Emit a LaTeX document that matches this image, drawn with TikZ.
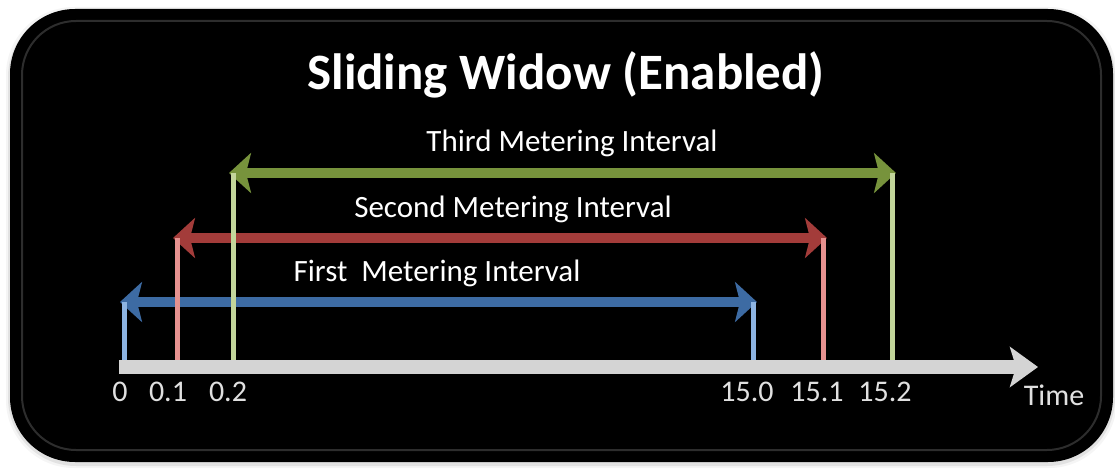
\documentclass[tikz,border=0pt]{standalone}
\usepackage{fontspec}
\setmainfont{Carlito}
\usetikzlibrary{arrows.meta}
\definecolor{grnA}{HTML}{77933C}
\definecolor{grnV}{HTML}{C3D69B}
\definecolor{redA}{HTML}{A33C3A}
\definecolor{redV}{HTML}{E6918F}
\definecolor{bluA}{HTML}{3D6BA3}
\definecolor{bluV}{HTML}{8DB4E2}
\definecolor{axisC}{HTML}{D4D4D4}
\begin{document}
\begin{tikzpicture}[x=1pt,y=-1pt,
  interval/.style={line width=10pt, {Stealth[length=22pt,width=40pt,inset=5pt]}-{Stealth[length=22pt,width=40pt,inset=5pt]}},
  tick/.style={line width=5pt},
  lbl/.style={text=white, font=\fontsize{31}{31}\selectfont, inner sep=0pt, anchor=base},
  num/.style={text=white!88!black, font=\fontsize{30}{30}\selectfont, inner sep=0pt, anchor=base},
  ttl/.style={text=white, font=\bfseries\fontsize{51}{51}\selectfont, inner sep=0pt, anchor=base}
]
\useasboundingbox (0,0) rectangle (1115,470);
% shadow and panel
\foreach \o/\a in {4/0.04,2/0.08}{
  \fill[black, opacity=\a, rounded corners=68pt] (10-\o,9-\o+2) rectangle (1113+\o,462+\o+2);
}
\fill[black, rounded corners=65pt] (10,9) rectangle (1113,462);
\draw[gray!35!black, line width=2pt, rounded corners=54pt] (22,21) rectangle (1101,450);

% title
\node[ttl] (title) at (566,90) {Sliding Widow (Enabled)};

% coordinates
\coordinate (b0) at (124,360); \coordinate (b0t) at (124,302);
\coordinate (b1) at (753,360); \coordinate (b1t) at (753,302);
\coordinate (r0) at (177,360); \coordinate (r0t) at (177,238);
\coordinate (r1) at (823,360); \coordinate (r1t) at (823,238);
\coordinate (g0) at (233,360); \coordinate (g0t) at (233,173);
\coordinate (g1) at (892,360); \coordinate (g1t) at (892,173);
\coordinate (bL) at (120,302); \coordinate (bR) at (757,302);
\coordinate (rL) at (173,238); \coordinate (rR) at (827,238);
\coordinate (gL) at (229,173); \coordinate (gR) at (896,173);
\coordinate (axL) at (119,367); \coordinate (axR) at (1038,367);

% interval arrows
\draw[interval, grnA] (gL) -- (gR);
\draw[interval, redA] (rL) -- (rR);
\draw[interval, bluA] (bL) -- (bR);

% verticals
\draw[tick, grnV] (g0t) -- (g0);
\draw[tick, grnV] (g1t) -- (g1);
\draw[tick, redV] (r0t) -- (r0);
\draw[tick, redV] (r1t) -- (r1);
\draw[tick, bluV] (b0t) -- (b0);
\draw[tick, bluV] (b1t) -- (b1);

% axis
\draw[axisC, line width=14pt, -{Stealth[length=28pt,width=40pt,inset=6pt]}] (axL) -- (axR);

% interval labels
\node[lbl] (lg) at (572,152) {Third Metering Interval};
\node[lbl] (lr) at (513,218) {Second Metering Interval};
\node[lbl] (lb) at (437,281) {First\ \ Metering Interval};

% tick labels
\node[num] (n0) at (120,401) {0};
\node[num] (n1) at (168,401) {0.1};
\node[num] (n2) at (228,401) {0.2};
\node[num] (n3) at (747,401) {15.0};
\node[num] (n4) at (817,401) {15.1};
\node[num] (n5) at (885,401) {15.2};
\node[num] (time) at (1054,405) {Time};
\end{tikzpicture}
\end{document}
